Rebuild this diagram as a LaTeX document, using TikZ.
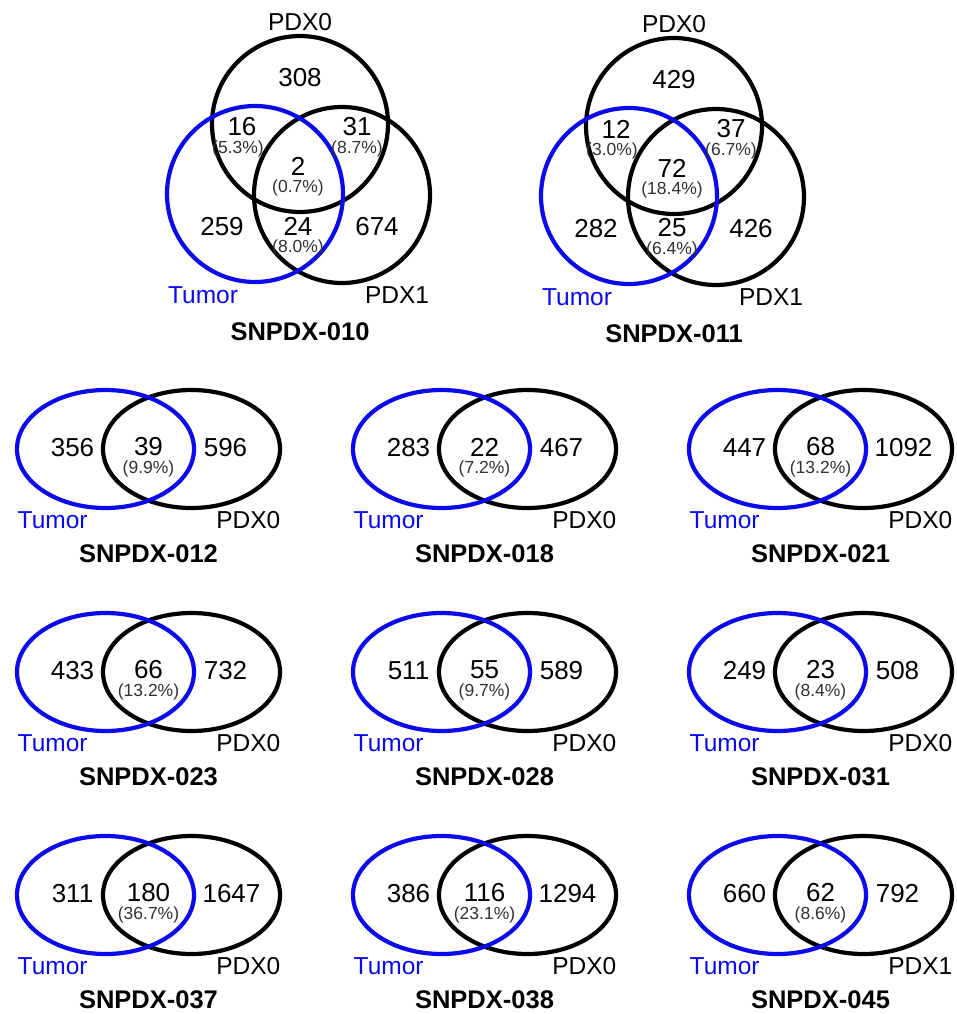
\documentclass[tikz,border=0pt]{standalone}
\usepackage{fontspec}
\setmainfont{Liberation Sans}
\definecolor{tblue}{RGB}{10,10,235}
\definecolor{pctgray}{RGB}{50,50,50}
\begin{document}
\begin{tikzpicture}[x=1pt,y=-1pt,
  setline/.style={line width=4.2pt},
  tumorline/.style={setline, draw=tblue},
  pdxline/.style={setline, draw=black},
  num/.style={font=\fontsize{26}{26}\selectfont, inner sep=0pt},
  pct/.style={font=\fontsize{17.5}{18}\selectfont, inner sep=0pt, text=pctgray},
  lab/.style={font=\fontsize{24.5}{25}\selectfont, inner sep=0pt},
  tumorlab/.style={lab, text=tblue},
  ttl/.style={font=\fontsize{25.5}{26}\selectfont\bfseries, inner sep=0pt}]
\useasboundingbox[fill=white] (0,0) rectangle (957,1014);

% ---------- three-set Venn diagrams ----------
\foreach \dx/\dy/\nA/\nB/\pB/\nC/\pC/\nD/\pD/\nE/\nF/\pF/\nG/\id in
 {0/0/308/16/5.3/31/8.7/2/0.7/259/24/8.0/674/010,
  374/2/429/12/3.0/37/6.7/72/18.4/282/25/6.4/426/011}{
  \begin{scope}[shift={(\dx,\dy)}]
    \draw[pdxline] (300,124) circle[radius=88pt];
    \draw[pdxline] (342,195) circle[radius=88pt];
    \draw[tumorline] (255,194) circle[radius=88pt];
    \node[lab] (p0lab\id) at (300,22) {PDX0};
    \node[num] (r0\id) at (300,78) {\nA};
    \node[num] (r1\id) at (242,127) {\nB};
    \node[pct] (q1\id) at (238,149) {(\pB\%)};
    \node[num] (r2\id) at (357,127) {\nC};
    \node[pct] (q2\id) at (357,149) {(\pC\%)};
    \node[num] (r3\id) at (298,166) {\nD};
    \node[pct] (q3\id) at (298,188) {(\pD\%)};
    \node[num] (r4\id) at (222,227) {\nE};
    \node[num] (r5\id) at (298,226) {\nF};
    \node[pct] (q5\id) at (298,248) {(\pF\%)};
    \node[num] (r6\id) at (377,227) {\nG};
    \node[tumorlab] (tlab\id) at (203,295) {Tumor};
    \node[lab] (p1lab\id) at (397,295) {PDX1};
    \node[ttl] (title\id) at (300,332) {SNPDX-\id};
  \end{scope}
}

% ---------- two-set Venn diagrams ----------
\foreach \c/\r/\nL/\nM/\pM/\nR/\rx/\pdx/\id in
 {0/0/356/39/9.9/596/120/PDX0/012,
  1/0/283/22/7.2/467/120/PDX0/018,
  2/0/447/68/13.2/1092/126/PDX0/021,
  0/1/433/66/13.2/732/120/PDX0/023,
  1/1/511/55/9.7/589/120/PDX0/028,
  2/1/249/23/8.4/508/120/PDX0/031,
  0/2/311/180/36.7/1647/126/PDX0/037,
  1/2/386/116/23.1/1294/126/PDX0/038,
  2/2/660/62/8.6/792/120/PDX1/045}{
  \begin{scope}[shift={(105.5+336*\c,449+223*\r)}]
    \draw[pdxline] (86,0) ellipse[x radius=88.5pt, y radius=59pt];
    \draw[tumorline] (0,0) ellipse[x radius=88.5pt, y radius=59pt];
    \node[num] (left\id) at (-33,-1) {\nL};
    \node[num] (mid\id) at (43,-2) {\nM};
    \node[pct] (midp\id) at (43,20) {(\pM\%)};
    \node[num] (right\id) at (\rx,-1) {\nR};
    \node[tumorlab, anchor=west] (tlab\id) at (-88,71) {Tumor};
    \node[lab, anchor=east] (plab\id) at (175,71) {\pdx};
    \node[ttl] (title\id) at (43,105) {SNPDX-\id};
  \end{scope}
}
\end{tikzpicture}
\end{document}
